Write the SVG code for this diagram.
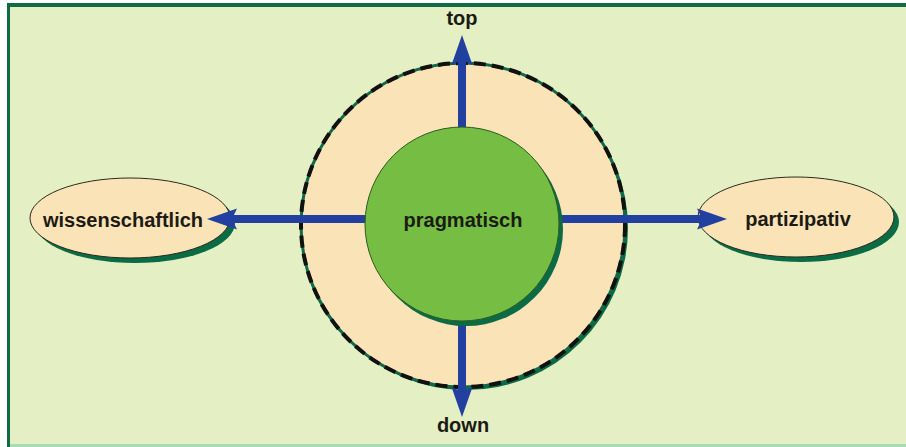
<svg xmlns="http://www.w3.org/2000/svg" width="906" height="447" viewBox="0 0 906 447">
<defs>
<style>
.lbl{font-family:"Liberation Sans",Arial,sans-serif;font-weight:bold;font-size:20px;fill:#1b1b14;text-anchor:middle}
.shadow{fill:#0b6b45}
.ell{fill:#fbe3b8;stroke:#2a2a1a;stroke-width:1}
.conn{stroke:#2240a0;stroke-width:8;fill:none}
</style>
<marker id="ah" markerUnits="userSpaceOnUse" markerWidth="31" markerHeight="22" refX="5" refY="11" orient="auto" viewBox="0 0 31 22">
<path d="M0,0.5 L30,11 L0,21.5 L5,11 z" fill="#2240a0"/>
</marker>
</defs>
<rect x="0" y="0" width="906" height="447" fill="#ffffff"/>
<rect x="7" y="3" width="899" height="444" fill="#e4efc3"/>
<rect x="7" y="3" width="899" height="4" fill="#0e6b45"/>
<rect x="7" y="3" width="3" height="444" fill="#0e6b45"/>
<rect x="10" y="444" width="896" height="3" fill="#a7dcb6"/>

<g id="outer">
<circle cx="466" cy="228" r="162" class="shadow"/>
<circle cx="463" cy="225" r="162" fill="#fbe3b8" stroke="#0e6b45" stroke-width="3"/>
<circle cx="463" cy="225" r="162" fill="none" stroke="#111111" stroke-width="4" stroke-dasharray="12 6"/>
</g>

<g id="wissenschaftlich">
<ellipse cx="135" cy="223" rx="100" ry="40" class="shadow"/>
<ellipse cx="130" cy="218" rx="100" ry="40" class="ell"/>
<text x="123" y="227" class="lbl">wissenschaftlich</text>
</g>

<g id="partizipativ">
<ellipse cx="801" cy="222" rx="98" ry="40" class="shadow"/>
<ellipse cx="796" cy="217" rx="98" ry="40" class="ell"/>
<text x="798" y="226" class="lbl">partizipativ</text>
</g>

<g id="connectors">
<line x1="462" y1="140" x2="462" y2="60" class="conn" marker-end="url(#ah)"/>
<line x1="462" y1="310" x2="462" y2="392" class="conn" marker-end="url(#ah)"/>
<line x1="380" y1="219" x2="232" y2="219" class="conn" marker-end="url(#ah)"/>
<line x1="545" y1="219" x2="702" y2="219" class="conn" marker-end="url(#ah)"/>
<text x="462" y="25" class="lbl">top</text>
<text x="463" y="432" class="lbl">down</text>
</g>

<g id="pragmatisch">
<circle cx="466" cy="229" r="97" class="shadow"/>
<circle cx="462" cy="224" r="97" fill="#76be43" stroke="#2d5a1e" stroke-width="1"/>
<text x="463" y="227" class="lbl">pragmatisch</text>
</g>
</svg>
